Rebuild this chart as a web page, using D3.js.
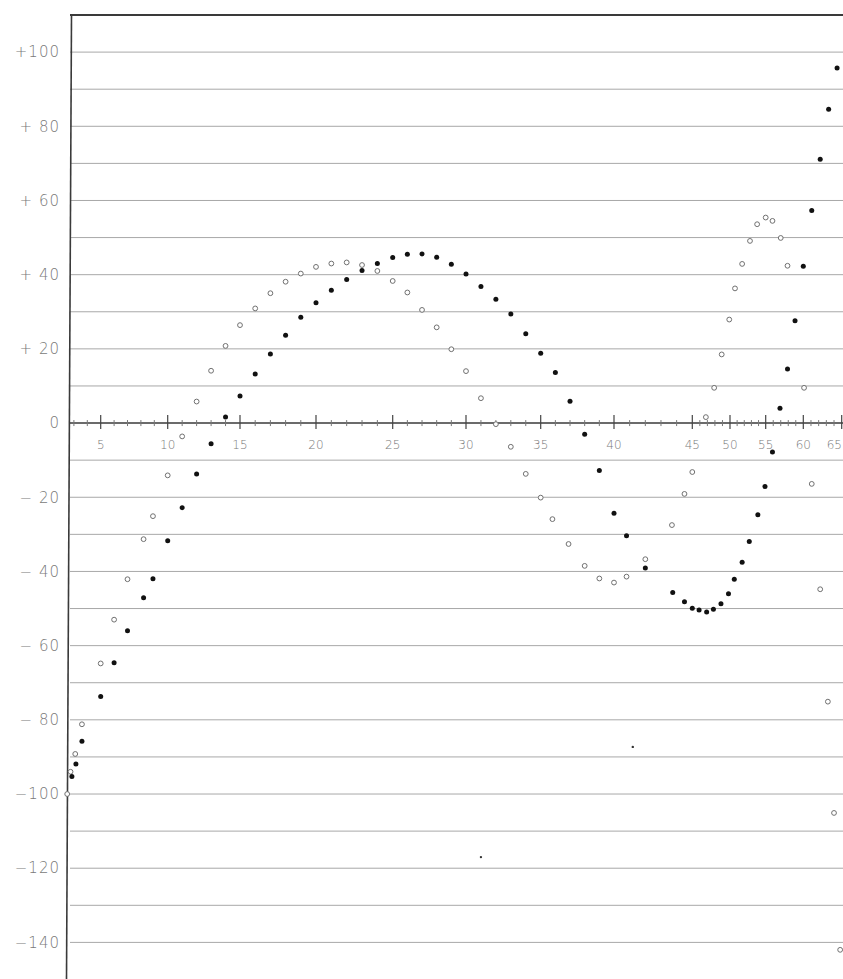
<!DOCTYPE html>
<html>
<head>
<meta charset="utf-8">
<script src="https://d3js.org/d3.v7.min.js"></script>
<style>
  body { margin: 0; background: #fff; }
  .grid line { stroke: #a8a8a8; stroke-width: 1; }
  .ylab { font-family: "DejaVu Sans", sans-serif; font-weight: 200; font-size: 15px; fill: #7a7a7a; letter-spacing: 1px; }
  .xlab { font-family: "DejaVu Sans", sans-serif; font-weight: 200; font-size: 12px; fill: #7a7a7a; }
</style>
</head>
<body>
<div id="chart"></div>
<script>

// ---- data ----
var filledX = [2.85, 3.15, 3.6, 5, 6, 7, 8.2, 8.9, 10, 11, 12, 13, 14, 15, 16, 17, 18, 19, 20,
  21, 22, 23, 24, 25, 26, 27, 28, 29, 30, 31, 32, 33, 34, 35, 36, 37, 38, 39, 40, 40.8,
  42, 43.75, 44.5, 45, 45.9, 46.9, 47.8, 48.8, 49.8, 50.6, 51.7, 52.7, 53.9, 54.9, 55.9,
  56.9, 57.9, 58.9, 60, 61.1, 62.2, 63.3, 64.4];
var filledY = [-95.3, -91.9, -85.8, -73.7, -64.6, -56.0, -47.1, -42.0, -31.7, -22.8, -13.7, -5.6, 1.6, 7.3, 13.2, 18.6, 23.7, 28.5, 32.4,
  35.8, 38.7, 41.1, 43.0, 44.6, 45.5, 45.6, 44.7, 42.8, 40.2, 36.8, 33.4, 29.4, 24.1, 18.8, 13.6, 5.9, -3.0, -12.8, -24.3, -30.4,
  -39.1, -45.7, -48.2, -49.9, -50.4, -50.9, -50.2, -48.7, -46.0, -42.1, -37.5, -31.9, -24.7, -17.1, -7.8,
  4.0, 14.6, 27.6, 42.3, 57.3, 71.1, 84.6, 95.7];

var openX = [2.5, 2.75, 3.1, 3.6, 5, 6, 7, 8.2, 8.9, 10, 11, 12, 13, 14, 15, 16, 17, 18, 19, 20,
  21, 22, 23, 24, 25, 26, 27, 28, 29, 30, 31, 32, 33, 34, 35, 35.8, 36.9, 38, 39, 40, 40.8,
  42, 43.7, 44.5, 45, 46.8, 47.9, 48.9, 49.9, 50.7, 51.7, 52.8, 53.8, 55, 55.9, 57, 57.9,
  60.1, 61.1, 62.2, 63.2, 64, 64.8];
var openY = [-100, -94.0, -89.2, -81.2, -64.8, -53.0, -42.1, -31.3, -25.1, -14.1, -3.6, 5.8, 14.1, 20.8, 26.4, 30.9, 35.0, 38.1, 40.3, 42.1,
  43.0, 43.3, 42.6, 41.0, 38.3, 35.2, 30.5, 25.8, 19.9, 14.0, 6.7, -0.3, -6.4, -13.7, -20.1, -25.9, -32.6, -38.5, -41.9, -43.0, -41.4,
  -36.7, -27.5, -19.1, -13.2, 1.6, 9.5, 18.5, 27.9, 36.3, 42.9, 49.1, 53.6, 55.4, 54.5, 49.9, 42.4,
  9.5, -16.4, -44.8, -75.1, -105.1, -142];

// two stray small dots
var strayX = [31, 41.2];
var strayY = [-117, -87.3];

var yTicks = [100, 80, 60, 40, 20, 0, -20, -40, -60, -80, -100, -120, -140];
var yLabels = ["+100", "+ 80", "+ 60", "+ 40", "+ 20", "0", "\u2212 20", "\u2212 40", "\u2212 60", "\u2212 80", "\u2212100", "\u2212120", "\u2212140"];
var gridVals = d3.range(-140, 101, 10);
var xTicks = [5, 10, 15, 20, 25, 30, 35, 40, 45, 50, 55, 60, 65];
var xLabels = ["5", "10", "15", "20", "25", "30", "35", "40", "45", "50", "55", "60", "65"];

// ---- layout ----
var width = 843, height = 979;
var left = 70;
// hand drawn axis: units get half as wide after 45
var xTickPos = [100.7, 167.7, 240, 316, 392.7, 466, 540.7, 614, 692.3, 730, 765.7, 803.3, 841.7];

var x = d3.scaleLinear().domain(xTicks).range(xTickPos);
var y = d3.scaleLinear().domain([-150, 110]).range([979.5, 15]);

var svg = d3.select("#chart").append("svg")
  .attr("width", width)
  .attr("height", height);

// grid
svg.append("g").attr("class", "grid")
  .selectAll("line")
  .data(gridVals.filter(function(d) { return d !== 0; }))
  .enter().append("line")
  .attr("x1", left).attr("x2", width)
  .attr("y1", function(d) { return y(d); })
  .attr("y2", function(d) { return y(d); });

// frame: top line and left axis
svg.append("line")
  .attr("x1", left).attr("x2", width)
  .attr("y1", y(110)).attr("y2", y(110))
  .style("stroke", "#3a3a3a").style("stroke-width", 1.8);

svg.append("line")
  .attr("x1", left + 1.5).attr("x2", left - 3.5)
  .attr("y1", y(110)).attr("y2", height)
  .style("stroke", "#3a3a3a").style("stroke-width", 1.6);

// zero line with ticks
svg.append("line")
  .attr("x1", left).attr("x2", width)
  .attr("y1", y(0)).attr("y2", y(0))
  .style("stroke", "#3a3a3a").style("stroke-width", 1.4);

svg.append("g")
  .selectAll("line")
  .data(d3.range(3, 65).filter(function(d) { return d % 5 !== 0; }))
  .enter().append("line")
  .attr("x1", function(d) { return x(d); })
  .attr("x2", function(d) { return x(d); })
  .attr("y1", y(0) - 3).attr("y2", y(0) + 3)
  .style("stroke", "#777").style("stroke-width", 1);

svg.append("g")
  .selectAll("line")
  .data(xTicks)
  .enter().append("line")
  .attr("x1", function(d) { return x(d); })
  .attr("x2", function(d) { return x(d); })
  .attr("y1", y(0) - 8).attr("y2", y(0) + 6)
  .style("stroke", "#444").style("stroke-width", 1.2);

svg.append("g")
  .selectAll("text")
  .data(xTicks)
  .enter().append("text")
  .attr("class", "xlab")
  .attr("x", function(d, i) { return i === xTicks.length - 1 ? width - 1 : x(d); })
  .attr("y", y(0) + 26)
  .attr("text-anchor", function(d, i) { return i === xTicks.length - 1 ? "end" : "middle"; })
  .text(function(d, i) { return xLabels[i]; });

// y labels
svg.append("g")
  .selectAll("text")
  .data(yTicks)
  .enter().append("text")
  .attr("class", "ylab")
  .attr("x", 60)
  .attr("y", function(d) { return y(d); })
  .attr("dy", "0.35em")
  .attr("text-anchor", "end")
  .text(function(d, i) { return yLabels[i]; });

// points
var filled = filledX.map(function(v, i) { return [v, filledY[i]]; });
var open = openX.map(function(v, i) { return [v, openY[i]]; });
var stray = strayX.map(function(v, i) { return [v, strayY[i]]; });

svg.append("g")
  .selectAll("circle")
  .data(open)
  .enter().append("circle")
  .attr("cx", function(d) { return x(d[0]); })
  .attr("cy", function(d) { return y(d[1]); })
  .attr("r", 2.4)
  .style("fill", "#fff")
  .style("stroke", "#707070")
  .style("stroke-width", 1);

svg.append("g")
  .selectAll("circle")
  .data(filled)
  .enter().append("circle")
  .attr("cx", function(d) { return x(d[0]); })
  .attr("cy", function(d) { return y(d[1]); })
  .attr("r", 2.5)
  .style("fill", "#111");

svg.append("g")
  .selectAll("circle")
  .data(stray)
  .enter().append("circle")
  .attr("cx", function(d) { return x(d[0]); })
  .attr("cy", function(d) { return y(d[1]); })
  .attr("r", 1.2)
  .style("fill", "#333");

</script>
</body>
</html>
